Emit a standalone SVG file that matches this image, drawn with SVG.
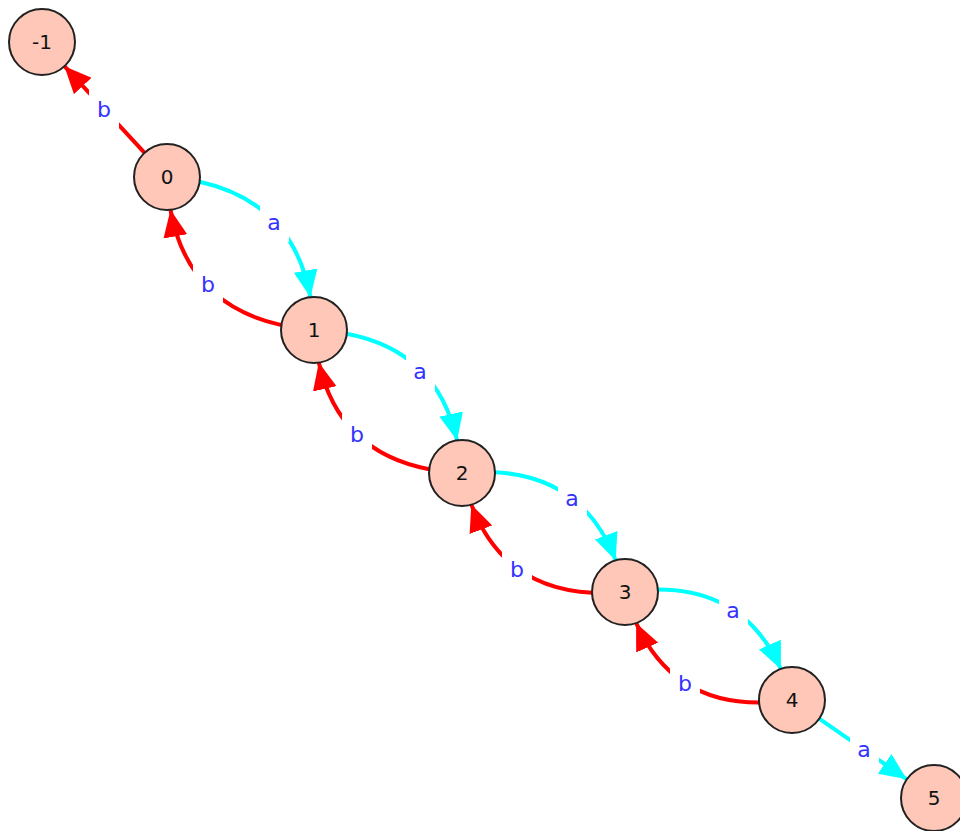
<svg xmlns="http://www.w3.org/2000/svg" width="960" height="831" viewBox="0 0 960 831">
<style>
.edge{fill:none;stroke-width:4;stroke-linecap:butt}
.ea{stroke:#00ffff}
.eb{stroke:#ff0000}
.lbg{fill:#ffffff;stroke:none}
.lbl{font-family:"DejaVu Sans",sans-serif;font-size:22px;fill:#3333ff;text-anchor:middle;dominant-baseline:central}
.node circle{fill:#fec7b8;stroke:#222222;stroke-width:2}
.node text{font-family:"DejaVu Sans",sans-serif;font-size:20px;fill:#111111;text-anchor:middle;dominant-baseline:central}
</style>
<defs>
<marker id="ha" viewBox="0 0 27 24" refX="27" refY="12" markerWidth="27" markerHeight="24" markerUnits="userSpaceOnUse" orient="auto"><path d="M0,0 L27,12 L0,24 z" fill="#00ffff"/></marker>
<marker id="hb" viewBox="0 0 27 24" refX="27" refY="12" markerWidth="27" markerHeight="24" markerUnits="userSpaceOnUse" orient="auto"><path d="M0,0 L27,12 L0,24 z" fill="#ff0000"/></marker>
</defs>
<rect width="960" height="831" fill="#ffffff"/>
<g id="connectors">
<path class="edge eb" marker-end="url(#hb)" d="M144.6,152.8 L64.4,66.2"/>
<path class="edge ea" marker-end="url(#ha)" d="M199.6,181.8 Q293.3,202.8 310.4,297.2"/>
<path class="edge eb" marker-end="url(#hb)" d="M281.4,325.1 Q187.7,304.3 170.5,209.8"/>
<path class="edge ea" marker-end="url(#ha)" d="M346.7,333.7 Q436.9,350.8 457.1,440.4"/>
<path class="edge eb" marker-end="url(#hb)" d="M429.2,469.2 Q339.0,452.1 318.8,362.5"/>
<path class="edge ea" marker-end="url(#ha)" d="M494.8,472.2 Q584.1,477.0 615.7,560.5"/>
<path class="edge eb" marker-end="url(#hb)" d="M592.2,592.8 Q502.9,588.1 471.3,504.4"/>
<path class="edge ea" marker-end="url(#ha)" d="M657.7,589.5 Q745.2,589.3 780.9,669.2"/>
<path class="edge eb" marker-end="url(#hb)" d="M759.3,702.6 Q671.9,702.8 636.1,622.9"/>
<path class="edge ea" marker-end="url(#ha)" d="M819.2,718.7 L906.8,779.3"/>
<g id="edge-labels">
<rect class="lbg" x="89" y="89" width="30" height="40"/><text class="lbl" x="104" y="109">b</text>
<rect class="lbg" x="260" y="202" width="29" height="40"/><text class="lbl" x="274" y="222">a</text>
<rect class="lbg" x="193" y="264" width="30" height="40"/><text class="lbl" x="208" y="284">b</text>
<rect class="lbg" x="406" y="351" width="29" height="40"/><text class="lbl" x="420" y="371">a</text>
<rect class="lbg" x="342" y="414" width="30" height="40"/><text class="lbl" x="357" y="434">b</text>
<rect class="lbg" x="558" y="478" width="29" height="40"/><text class="lbl" x="572" y="498">a</text>
<rect class="lbg" x="502" y="549" width="30" height="40"/><text class="lbl" x="517" y="569">b</text>
<rect class="lbg" x="719" y="590" width="29" height="40"/><text class="lbl" x="733" y="610">a</text>
<rect class="lbg" x="670" y="663" width="30" height="40"/><text class="lbl" x="685" y="683">b</text>
<rect class="lbg" x="850" y="729" width="29" height="40"/><text class="lbl" x="864" y="749">a</text>
</g>
</g>
<g id="node-m1" class="node"><circle cx="42" cy="42" r="33"/><text x="42" y="42">-1</text></g>
<g id="node-0" class="node"><circle cx="167" cy="177" r="33"/><text x="167" y="177">0</text></g>
<g id="node-1" class="node"><circle cx="314" cy="330" r="33"/><text x="314" y="330">1</text></g>
<g id="node-2" class="node"><circle cx="462" cy="473" r="33"/><text x="462" y="473">2</text></g>
<g id="node-3" class="node"><circle cx="625" cy="592" r="33"/><text x="625" y="592">3</text></g>
<g id="node-4" class="node"><circle cx="792" cy="700" r="33"/><text x="792" y="700">4</text></g>
<g id="node-5" class="node"><circle cx="934" cy="798" r="33"/><text x="934" y="798">5</text></g>
</svg>
